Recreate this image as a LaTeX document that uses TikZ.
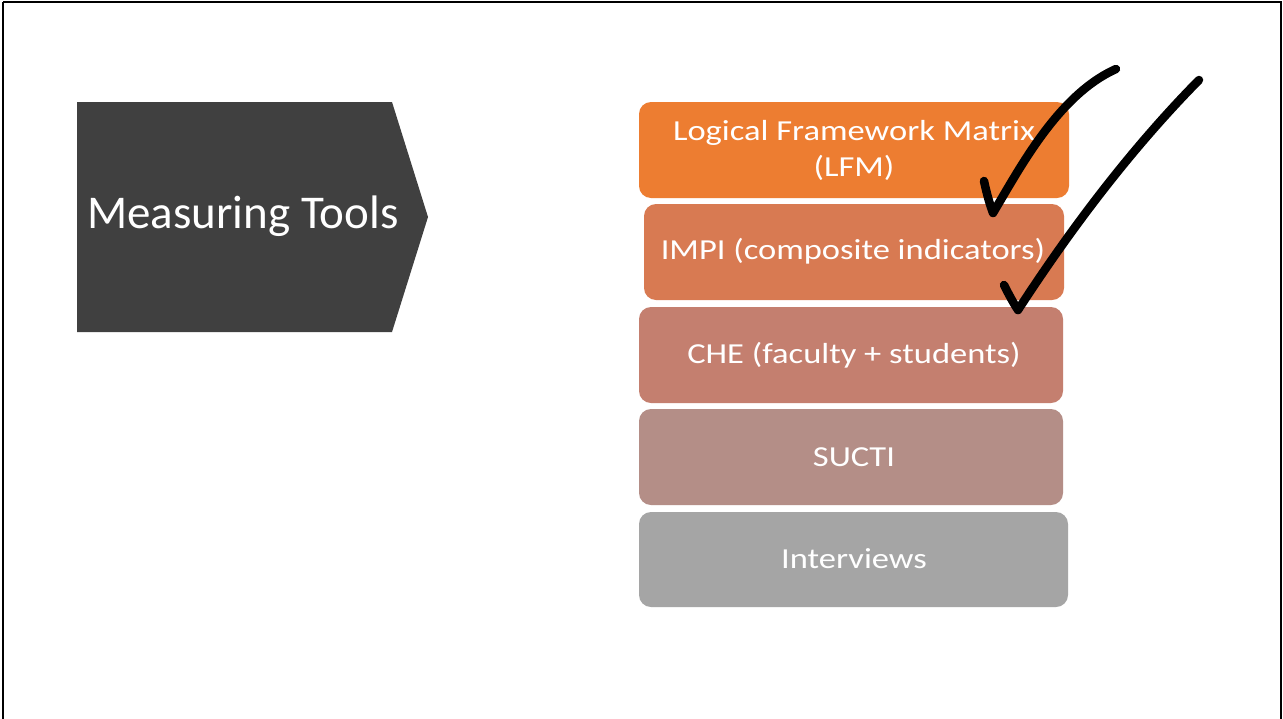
\documentclass[tikz,border=0pt]{standalone}
\usepackage{fontspec}
\setmainfont{Carlito}
\newfontfamily\boxfont[FakeStretch=1.19]{Carlito}
\definecolor{cA}{HTML}{ED7D31}
\definecolor{cB}{HTML}{D87A52}
\definecolor{cC}{HTML}{C47F6F}
\definecolor{cD}{HTML}{B48E87}
\definecolor{cE}{HTML}{A5A5A5}
\definecolor{dark}{HTML}{404040}
\tikzset{
  toolbox/.style={fill=#1, draw=none, rounded corners=12pt},
  boxtext/.style={text=white, font=\boxfont\fontsize{29}{36}\selectfont, align=center},
  tick/.style={line width=8.5pt, line cap=round, line join=round, black}
}
\begin{document}
\begin{tikzpicture}[x=1pt,y=-1pt]
\useasboundingbox (0,0) rectangle (1283,718);
\fill[white] (0,0) rectangle (1283,718);
\draw[line width=2.5pt] (3,2) -- (1281,2) -- (1281,730) (3,2) -- (3,730);
% pentagon
\fill[dark] (77,102) -- (392,102) -- (428,217) -- (392,332) -- (77,332) -- cycle;
\node[text=white, font=\fontsize{47}{56}\selectfont] (title) at (243,216) {Measuring Tools};
% boxes
\fill[toolbox=cA] (639,102) rectangle (1069,198);
\fill[toolbox=cB] (644,204) rectangle (1064,300);
\fill[toolbox=cC] (639,307) rectangle (1063,403);
\fill[toolbox=cD] (639,409) rectangle (1063,505);
\fill[toolbox=cE] (639,512) rectangle (1068,607);
\node[boxtext] (lfm) at (854,150) {Logical Framework Matrix\\(LFM)};
\node[boxtext] (impi) at (853,251) {IMPI (composite indicators)};
\node[boxtext] (che) at (854,355) {CHE (faculty + students)};
\node[boxtext] (sucti) at (854,457) {SUCTI};
\node[boxtext] (int) at (854,559) {Interviews};
% check marks
\draw[tick] (984,181) .. controls (987,195) and (990,205) .. (993,213)
  .. controls (1020,168) and (1058,95) .. (1116,69);
\draw[tick] (1004,285) .. controls (1009,295) and (1014,304) .. (1018,310)
  .. controls (1070,230) and (1130,150) .. (1199,80);
\end{tikzpicture}
\end{document}
